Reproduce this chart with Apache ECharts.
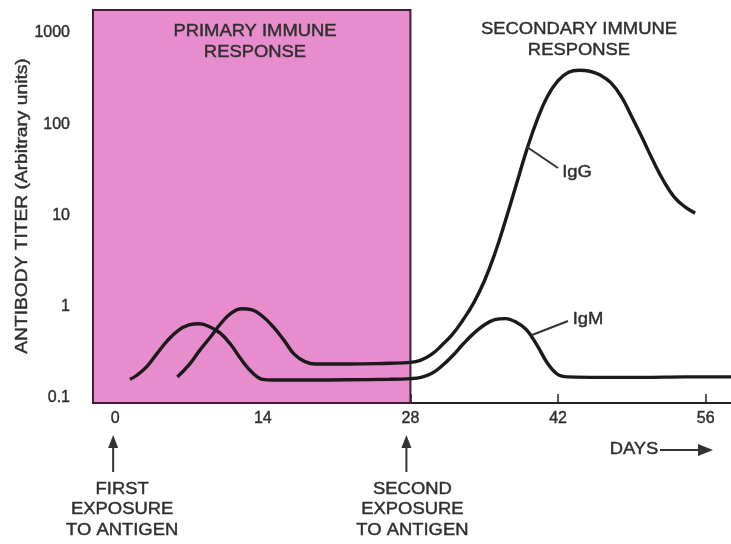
<!DOCTYPE html>
<html><head><meta charset="utf-8">
<script src="https://cdn.jsdelivr.net/npm/echarts@6/dist/echarts.min.js"></script>
<style>html,body{margin:0;padding:0;background:#fff}#c{width:731px;height:544px}</style>
</head><body><div id="c"></div>
<script>
const xTicks = [0, 14, 28, 42, 56];
const yTicks = [0.1, 1, 10, 100, 1000];
// IgM curve: primary peak ~day 8, secondary peak ~day 37
const igmDays = [1.4, 2, 3, 4, 5, 6, 7, 8, 9, 10, 11, 12, 13, 14, 15, 18, 22, 26, 28, 29, 30, 31, 32, 33, 34, 35, 36, 37, 38, 39, 40, 41, 42, 43, 46, 50, 54, 58.4];
const igmVals = [0.16, 0.175, 0.22, 0.31, 0.43, 0.55, 0.63, 0.65, 0.6, 0.51, 0.38, 0.26, 0.19, 0.16, 0.157, 0.157, 0.158, 0.16, 0.163, 0.168, 0.185, 0.225, 0.29, 0.39, 0.51, 0.63, 0.72, 0.74, 0.68, 0.56, 0.38, 0.24, 0.18, 0.17, 0.168, 0.168, 0.17, 0.17];
// IgG curve: primary peak ~day 12, large secondary peak ~day 44
const iggDays = [5.9, 7, 8, 9, 10, 11, 12, 13, 14, 15, 16, 17, 18, 19, 22, 26, 28, 29, 30, 31, 32, 33, 34, 35, 36, 37, 38, 39, 40, 41, 42, 43, 44, 45, 46, 47, 48, 49, 50, 51, 52, 53, 54, 55];
const iggVals = [0.17, 0.23, 0.33, 0.46, 0.65, 0.85, 0.95, 0.92, 0.78, 0.6, 0.43, 0.3, 0.25, 0.235, 0.235, 0.24, 0.245, 0.26, 0.3, 0.38, 0.5, 0.72, 1.1, 1.9, 3.8, 8.7, 21, 51, 110, 202, 300, 370, 390, 380, 345, 285, 200, 120, 70, 40, 24, 16, 12.5, 10.6];
const pinkEnd = 28;

const F = '"Liberation Sans", Arial, sans-serif';
const C = '#2e2e2e';
const chart = echarts.init(document.getElementById('c'));
const zip = (a, b) => a.map((d, i) => [d, b[i]]);
const lbl = {color: C, fontSize: 16, fontFamily: F, textBorderColor: C, textBorderWidth: 0.4};
chart.setOption({
  animation: false,
  backgroundColor: '#fff',
  grid: {left: 93, right: 0, top: 10, bottom: 141},
  xAxis: {
    type: 'value', min: -2.1, max: 58.4,
    axisLine: {lineStyle: {color: '#222', width: 2}},
    axisTick: {inside: true, length: 9, lineStyle: {color: '#222', width: 1.5}, customValues: xTicks},
    axisLabel: Object.assign({customValues: xTicks, margin: 8}, lbl),
    splitLine: {show: false}
  },
  yAxis: {
    type: 'log', min: 0.088, max: 1784, logBase: 10,
    axisLine: {lineStyle: {color: '#222', width: 2}},
    axisTick: {length: 8, lineStyle: {color: '#444', width: 1.5}, customValues: yTicks},
    axisLabel: Object.assign({customValues: yTicks, margin: 23, formatter: v => String(v)}, lbl),
    splitLine: {show: false}
  },
  series: [
    {type: 'line', name: 'IgM', data: zip(igmDays, igmVals), smooth: 0.4, symbol: 'none',
      lineStyle: {color: '#1a1a1a', width: 3.4}, z: 5,
      markArea: {silent: true, itemStyle: {color: '#e78dcd', borderColor: '#3a2030', borderWidth: 2},
        data: [[{xAxis: -2.1, yAxis: 0.088}, {xAxis: pinkEnd, yAxis: 1784}]]}},
    {type: 'line', name: 'IgG', data: zip(iggDays, iggVals), smooth: 0.45, symbol: 'none',
      lineStyle: {color: '#1a1a1a', width: 3.4}, z: 5}
  ]
});

const px = (d, v) => chart.convertToPixel({gridIndex: 0}, [d, v]);
const t = (text, x, y, extra) => Object.assign({type: 'text', x, y, z: 100, scaleX: 1.15,
  style: {text, fill: C, stroke: C, lineWidth: 0.4, font: '16px ' + F, align: 'center', verticalAlign: 'middle', lineHeight: 20.5}}, extra || {});
const x0 = px(0, 1)[0], x28 = px(28, 1)[0];
const g = [
  t('PRIMARY IMMUNE\nRESPONSE', 255, 42),
  t('SECONDARY IMMUNE\nRESPONSE', 579, 40),
  t('FIRST\nEXPOSURE\nTO ANTIGEN', x0 + 7, 510),
  t('SECOND\nEXPOSURE\nTO ANTIGEN', x28 + 2, 510),
  t('IgG', 577, 173),
  t('IgM', 588, 320),
  t('DAYS', 634, 450),
  t('ANTIBODY TITER (Arbitrary units)', 23, 206, {rotation: Math.PI / 2, scaleX: 1.2})
];
const arrowUp = (x) => [
  {type: 'line', z: 100, shape: {x1: x, y1: 472, x2: x, y2: 446}, style: {stroke: '#333', lineWidth: 2}},
  {type: 'polygon', z: 100, shape: {points: [[x - 5, 448], [x + 5, 448], [x, 435]]}, style: {fill: '#333'}}
];
g.push(...arrowUp(x0 - 2), ...arrowUp(x28 - 4));
g.push({type: 'line', z: 100, shape: {x1: 660, y1: 450, x2: 700, y2: 450}, style: {stroke: '#333', lineWidth: 1.8}});
g.push({type: 'polygon', z: 100, shape: {points: [[698, 444], [698, 456], [713, 450]]}, style: {fill: '#333'}});
g.push({type: 'line', z: 100, shape: {x1: 527, y1: 147, x2: 558, y2: 168}, style: {stroke: '#333', lineWidth: 2}});
g.push({type: 'line', z: 100, shape: {x1: 532, y1: 335, x2: 568, y2: 321}, style: {stroke: '#333', lineWidth: 2}});
chart.setOption({graphic: g});
</script></body></html>
